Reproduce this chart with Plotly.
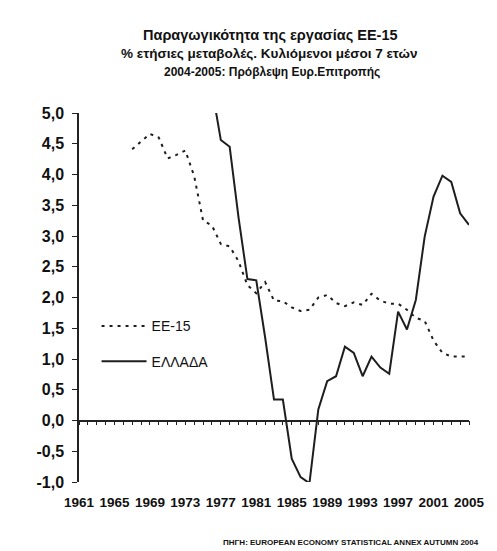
import plotly.graph_objects as go

# Δεδομένα (ετήσιες μεταβολές %, κυλιόμενοι μέσοι 7 ετών)
years_ee = list(range(1967, 2006))
ee15 = [4.41, 4.53, 4.66, 4.60, 4.26, 4.32, 4.39, 3.97, 3.25, 3.17,
        2.87, 2.83, 2.59, 2.20, 2.07, 2.25, 1.95, 1.94, 1.84, 1.78,
        1.80, 2.00, 2.04, 1.91, 1.86, 1.92, 1.88, 2.06, 1.95, 1.90,
        1.90, 1.80, 1.67, 1.62, 1.30, 1.10, 1.04, 1.04, 1.04]

years_gr = list(range(1976, 2006))
ellada = [5.40, 4.56, 4.45, 3.30, 2.30, 2.28, 1.35, 0.34, 0.34, -0.62,
          -0.92, -1.02, 0.18, 0.64, 0.72, 1.20, 1.10, 0.72, 1.04, 0.86,
          0.76, 1.77, 1.48, 1.96, 2.99, 3.64, 3.98, 3.88, 3.37, 3.18]

x_tick_vals = list(range(1961, 2006, 4))
x_tick_text = ['<b>%d</b>' % v for v in x_tick_vals]
y_tick_vals = [-1.0, -0.5, 0.0, 0.5, 1.0, 1.5, 2.0, 2.5, 3.0, 3.5, 4.0, 4.5, 5.0]
y_tick_text = ['<b>' + t + '</b>' for t in
               ['-1,0', '-0,5', '0,0', '0,5', '1,0', '1,5', '2,0', '2,5',
                '3,0', '3,5', '4,0', '4,5', '5,0']]

FONT = 'Liberation Sans, Arial, sans-serif'

fig = go.Figure()

fig.add_trace(go.Scatter(
    x=years_ee, y=ee15, mode='lines', name='ΕΕ-15',
    line=dict(color='#1e1e1e', width=2, dash='3px,5px'),
    legendgroup='a'
))

fig.add_trace(go.Scatter(
    x=years_gr, y=ellada, mode='lines', name='ΕΛΛΑΔΑ',
    line=dict(color='#1e1e1e', width=2),
    xaxis='x2', legendgroup='b'
))

# Τίτλος σε τρεις γραμμές
titles = [
    ('Παραγωγικότητα της εργασίας ΕΕ-15', 14.5, 0.49, 1.211),
    ('% ετήσιες μεταβολές. Κυλιόμενοι μέσοι 7 ετών', 13.5, 0.486, 1.161),
    ('2004-2005: Πρόβλεψη Ευρ.Επιτροπής', 12, 0.494, 1.111),
]
for txt, sz, xx, yy in titles:
    fig.add_annotation(text='<b>' + txt + '</b>', x=xx, y=yy,
                       xref='paper', yref='paper', showarrow=False,
                       xanchor='center', yanchor='middle',
                       font=dict(family=FONT, size=sz, color='#111111'))

fig.add_annotation(text='<b>ΠΗΓΗ: EUROPEAN ECONOMY STATISTICAL ANNEX AUTUMN 2004</b>',
                   x=1.03, y=-0.165, xref='paper', yref='paper',
                   showarrow=False, xanchor='right', yanchor='middle',
                   font=dict(family=FONT, size=8, color='#111111'))

# η σελίδα έχει περιθώριο 8px, γι' αυτό το σχήμα είναι 489x543
fig.update_layout(
    width=489, height=543,
    margin=dict(l=71, r=15, t=105, b=69),
    paper_bgcolor='white', plot_bgcolor='white',
    font=dict(family=FONT, color='#111111'),
    showlegend=True,
    legend=dict(x=0.045, y=0.465, xanchor='left', yanchor='top',
                bgcolor='rgba(0,0,0,0)', font=dict(size=14),
                tracegroupgap=14, itemwidth=45),
    xaxis=dict(range=[1961, 2005], tickvals=x_tick_vals, ticktext=x_tick_text,
               showline=False, showgrid=False, zeroline=False,
               ticks='outside', ticklen=8, tickcolor='rgba(0,0,0,0)',
               ticklabeloverflow='allow',
               tickfont=dict(size=13.5, family=FONT), tickangle=0),
    xaxis2=dict(range=[1961, 2005], overlaying='x', anchor='free',
                position=1 / 6, side='bottom', showline=True,
                linecolor='#222222', linewidth=1.5, showgrid=False,
                zeroline=False, ticks='outside', ticklen=4, tickwidth=1,
                tickcolor='#222222', tick0=1961, dtick=1,
                showticklabels=False),
    yaxis=dict(range=[-1, 5], tickvals=y_tick_vals, ticktext=y_tick_text,
               showline=True, linecolor='#222222', linewidth=1.5,
               showgrid=False, zeroline=False, ticks='outside', ticklen=5,
               tickcolor='#222222', ticklabelstandoff=5,
               tickfont=dict(size=16, family=FONT)),
)

fig.write_html("out.html")
